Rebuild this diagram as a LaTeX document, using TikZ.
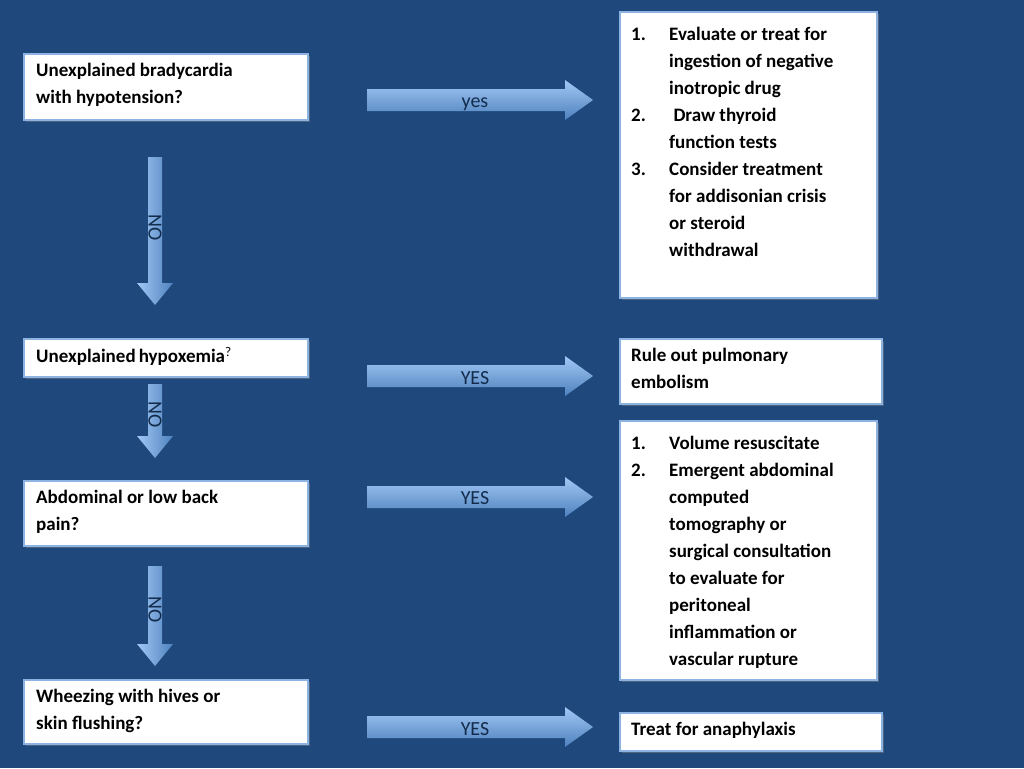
\documentclass[tikz,border=0pt]{standalone}
\usepackage{fontspec}
\setmainfont{Carlito}
\usetikzlibrary{shadows}
\definecolor{bg}{RGB}{31,73,125}
\definecolor{bd}{RGB}{141,179,226}
\definecolor{al}{RGB}{160,200,245}
\definecolor{ad}{RGB}{79,129,189}
\tikzset{
 box/.style={draw=bd,line width=2pt,fill=white,drop shadow={opacity=0.5,shadow xshift=2pt,shadow yshift=-2pt}},
 txt/.style={anchor=north west,align=left,font=\fontsize{19}{27}\selectfont\bfseries,inner sep=0pt},
 lab/.style={font=\fontsize{20}{22}\selectfont,text=bg!60!black,inner sep=0pt},
 arr/.style={top color=al,bottom color=ad,draw=none},
 darr/.style={left color=al,right color=ad,draw=none}
}
\newcommand{\rarr}[4]{% x0 x1 yc name
 \path[arr] (#1,#3-11)--(#2-28,#3-11)--(#2-28,#3-20)--(#2,#3)--(#2-28,#3+20)--(#2-28,#3+11)--(#1,#3+11)--cycle;
 \coordinate (#4) at ({(#1+#2)/2},#3);}
\newcommand{\darrow}[4]{% y0 y1 xc name
 \path[darr] (#3-7,#1)--(#3-7,#2-22)--(#3-18,#2-22)--(#3,#2)--(#3+18,#2-22)--(#3+7,#2-22)--(#3+7,#1)--cycle;
 \coordinate (#4) at (#3,{(#1+#2)/2});}
\begin{document}
\begin{tikzpicture}[x=1pt,y=-1pt]
\fill[bg] (0,0) rectangle (1024,768);
\useasboundingbox (0,0) rectangle (1024,768);
% left boxes
\draw[box] (24,54) rectangle (308,120);
\node[txt] (l1) at (36,63) {Unexplained bradycardia\\with hypotension?};
\draw[box] (24,339) rectangle (308,377);
\node[txt] (l2) at (36,347) {Unexplained\,hypoxemia\textsuperscript{\mdseries ?}};
\draw[box] (24,481) rectangle (308,546);
\node[txt] (l3) at (36,490) {Abdominal or low back\\pain?};
\draw[box] (24,680) rectangle (308,744);
\node[txt] (l4) at (36,689) {Wheezing with hives or\\skin flushing?};
% right boxes
\draw[box] (620,12) rectangle (877,298);
\node[txt] (r1) at (631,21) {\begin{tabular}{@{}p{38pt}@{}l@{}}1. & Evaluate or treat for\\ & ingestion of negative\\ & inotropic drug\\2. & \ Draw thyroid\\ & function tests\\3. & Consider treatment\\ & for addisonian crisis\\ & or steroid\\ & withdrawal\end{tabular}};
\draw[box] (620,339) rectangle (882,404);
\node[txt] (r2) at (631,348) {Rule out pulmonary\\embolism};
\draw[box] (620,421) rectangle (877,680);
\node[txt] (r3) at (631,430) {\begin{tabular}{@{}p{38pt}@{}l@{}}1. & Volume resuscitate\\2. & Emergent abdominal\\ & computed\\ & tomography or\\ & surgical consultation\\ & to evaluate for\\ & peritoneal\\ & inflammation or\\ & vascular rupture\end{tabular}};
\draw[box] (620,713) rectangle (882,751);
\node[txt] (r4) at (631,722) {Treat for anaphylaxis};
% arrows
\rarr{367}{593}{100}{a1}\node[lab] at (475,104) {yes};
\rarr{367}{593}{376}{a2}\node[lab] at (475,378) {YES};
\rarr{367}{593}{497}{a3}\node[lab] at (475,498) {YES};
\rarr{367}{593}{727}{a4}\node[lab] at (475,729) {YES};
\darrow{157}{305}{155}{d1}\node[lab,rotate=-90] at (155,228) {NO};
\darrow{384}{458}{155}{d2}\node[lab,rotate=-90] at (155,415) {NO};
\darrow{566}{666}{155}{d3}\node[lab,rotate=-90] at (155,610) {NO};
\end{tikzpicture}
\end{document}
